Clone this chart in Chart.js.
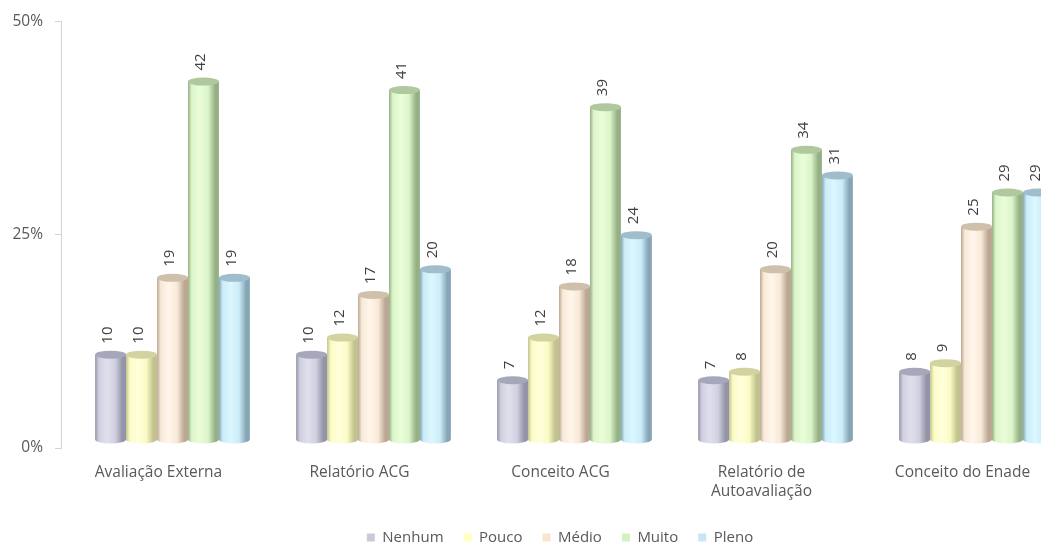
<!DOCTYPE html>
<html>
<head>
<meta charset="utf-8">
<script src="https://cdn.jsdelivr.net/npm/chart.js@4.4.1/dist/chart.umd.min.js"></script>
<style>
  html, body { margin: 0; padding: 0; background: #fff; overflow: hidden; }
  #wrap { width: 1041px; height: 545px; overflow: hidden; }
  #wrap canvas { display: block; }
</style>
</head>
<body>
<div id="wrap"><canvas id="chart" width="1120" height="555"></canvas></div>
<script>
const categories = ['Avaliação Externa', 'Relatório ACG', 'Conceito ACG', ['Relatório de', 'Autoavaliação'], 'Conceito do Enade'];
const seriesNames = ['Nenhum', 'Pouco', 'Médio', 'Muito', 'Pleno'];
const nenhum = [10, 10, 7, 7, 8];
const pouco = [10, 12, 12, 8, 9];
const medio = [19, 17, 18, 20, 25];
const muito = [42, 41, 39, 34, 29];
const pleno = [19, 20, 24, 31, 29];
const yTicks = [0, 25, 50];

// cylinder shading per series: legend swatch, highlight, body, shadow edge, top cap
const palette = [
  { swatch: '#c9c9da', light: '#e0e0ec', mid: '#cfcfe0', dark: '#9494a8', top: '#a7a7bb' },
  { swatch: '#ffffc2', light: '#ffffdc', mid: '#fbfbc6', dark: '#c2c28e', top: '#d3d3a2' },
  { swatch: '#fbe5cf', light: '#fff6ea', mid: '#f8e9d8', dark: '#bba793', top: '#cfc0ab' },
  { swatch: '#d5f1c2', light: '#eafdd9', mid: '#dcf5c9', dark: '#94b084', top: '#afc89e' },
  { swatch: '#c8e7f3', light: '#dcf7ff', mid: '#cbecf8', dark: '#86a6b6', top: '#9fbdcc' }
];

const FONT = '"Open Sans", sans-serif';
const DEPTH_X = 11;   // 3d floor offset of the bars
const DEPTH_Y = 8;
const CAP_RY = 4;

const cylinders = {
  id: 'cylinders',
  beforeDatasetsDraw(chart) {
    const ctx = chart.ctx;
    ctx.save();
    chart.data.datasets.forEach((ds, di) => {
      const c = palette[di];
      chart.getDatasetMeta(di).data.forEach(bar => {
        const w = bar.width;
        const left = bar.x - w / 2 + DEPTH_X;
        const right = left + w;
        const topY = bar.y - DEPTH_Y;
        const botY = bar.base - DEPTH_Y;
        const cx = (left + right) / 2;

        const g = ctx.createLinearGradient(left, 0, right, 0);
        g.addColorStop(0, c.dark);
        g.addColorStop(0.12, c.mid);
        g.addColorStop(0.38, c.light);
        g.addColorStop(0.65, c.mid);
        g.addColorStop(0.88, c.dark);
        g.addColorStop(1, c.dark);
        ctx.beginPath();
        ctx.moveTo(left, topY);
        ctx.lineTo(left, botY);
        ctx.ellipse(cx, botY, w / 2, CAP_RY, 0, Math.PI, 0, true);
        ctx.lineTo(right, topY);
        ctx.closePath();
        ctx.fillStyle = g;
        ctx.fill();

        ctx.beginPath();
        ctx.ellipse(cx, topY, w / 2, CAP_RY, 0, 0, Math.PI * 2);
        ctx.fillStyle = c.top;
        ctx.fill();
      });
    });
    ctx.restore();
    return false;
  },
  afterDraw(chart) {
    const ctx = chart.ctx;
    ctx.save();
    ctx.fillStyle = '#404040';
    ctx.font = '15px ' + FONT;
    ctx.textAlign = 'left';
    ctx.textBaseline = 'middle';
    chart.data.datasets.forEach((ds, di) => {
      chart.getDatasetMeta(di).data.forEach((bar, i) => {
        const x = bar.x + DEPTH_X - 3;
        const y = bar.y - DEPTH_Y - CAP_RY - 7;
        ctx.save();
        ctx.translate(x, y);
        ctx.rotate(-Math.PI / 2);
        ctx.fillText(String(ds.data[i]), 0, 0);
        ctx.restore();
      });
    });
    ctx.restore();
  }
};

const allSeries = [nenhum, pouco, medio, muito, pleno];

new Chart(document.getElementById('chart'), {
  type: 'bar',
  data: {
    labels: categories,
    datasets: allSeries.map((values, i) => ({
      label: seriesNames[i],
      data: values,
      backgroundColor: palette[i].swatch,
      borderWidth: 0,
      categoryPercentage: 0.77,
      barPercentage: 1.0
    }))
  },
  options: {
    responsive: false,
    animation: false,
    layout: { padding: { top: 20, left: 12, right: 12, bottom: 0 } },
    plugins: {
      tooltip: { enabled: false },
      legend: {
        position: 'bottom',
        labels: {
          boxWidth: 8,
          boxHeight: 8,
          padding: 20,
          color: '#595959',
          font: { family: FONT, size: 15 }
        }
      }
    },
    scales: {
      x: {
        grid: { display: false, drawTicks: false },
        border: { display: false },
        ticks: {
          color: '#595959',
          padding: 15,
          labelOffset: -3,
          maxRotation: 0,
          autoSkip: false,
          font: { family: FONT, size: 15.5, lineHeight: 1.25 }
        },
        afterFit(scale) { scale.height = 62; }
      },
      y: {
        min: 0,
        max: 50,
        afterBuildTicks(scale) { scale.ticks = yTicks.map(v => ({ value: v })); },
        grid: { drawOnChartArea: false, color: '#d3d3df', tickLength: 6 },
        border: { color: '#d3d3df' },
        ticks: {
          color: '#595959',
          padding: 12,
          font: { family: FONT, size: 15.5 },
          callback: v => v + '%'
        },
        afterFit(scale) { scale.width = 49; }
      },
      // empty right-hand margin beside the plot
      yRight: {
        position: 'right',
        grid: { display: false },
        border: { display: false },
        ticks: { display: false },
        afterFit(scale) { scale.width = 42; }
      }
    }
  },
  plugins: [cylinders]
});
</script>
</body>
</html>
